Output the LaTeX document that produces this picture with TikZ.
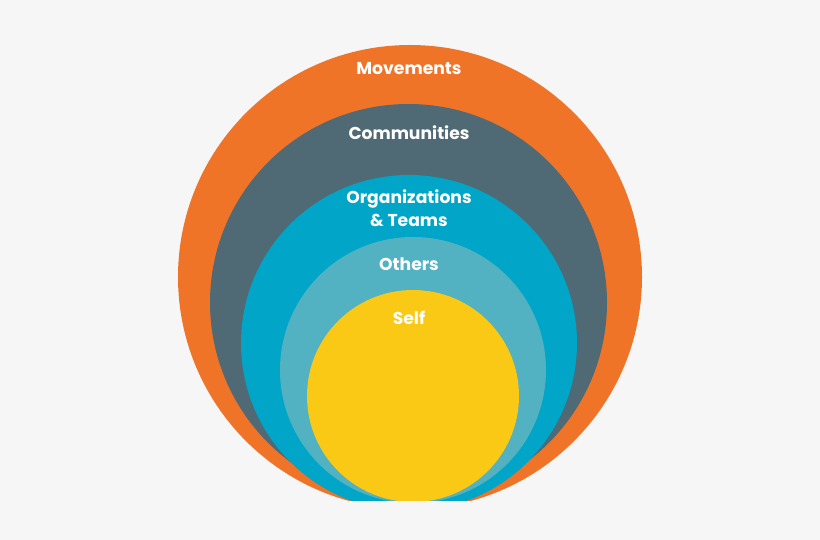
\documentclass[tikz,border=0pt]{standalone}
\usepackage{fontspec}
\setmainfont{Poppins}
\definecolor{bgcol}{HTML}{F6F6F6}
\definecolor{movecol}{HTML}{F07427}
\definecolor{commcol}{HTML}{506A75}
\definecolor{orgcol}{HTML}{00A5C7}
\definecolor{othcol}{HTML}{52B2C2}
\definecolor{selfcol}{HTML}{F9C915}
\tikzset{ringlabel/.style={text=white, font=\fontsize{17.2}{23}\selectfont\bfseries, align=center}}
\begin{document}
\begin{tikzpicture}[x=1pt, y=-1pt]
      \fill[bgcol] (0,0) rectangle (820,540);
      \useasboundingbox (0,0) rectangle (820,540);
      %
      \begin{scope}
        \clip (0,0) rectangle (820,500);
        \fill[movecol] (410,277) circle (232);
        \fill[commcol] (408.5,302.5) circle (198.5);
        \fill[orgcol] (409,343) circle (168);
        \fill[othcol] (413,370) circle (133);
        \fill[selfcol] (413,396) circle (106);
      \end{scope}
      %
      \node[ringlabel] (move) at (409,69) {Movements};
      \node[ringlabel] (comm) at (409,133) {Communities};
      \node[ringlabel] (org) at (409,208) {Organizations\\\&~Teams};
      \node[ringlabel] (oth) at (409,264) {Others};
      \node[ringlabel] (self) at (409,318) {Self};
      %
    \end{tikzpicture}
\end{document}
